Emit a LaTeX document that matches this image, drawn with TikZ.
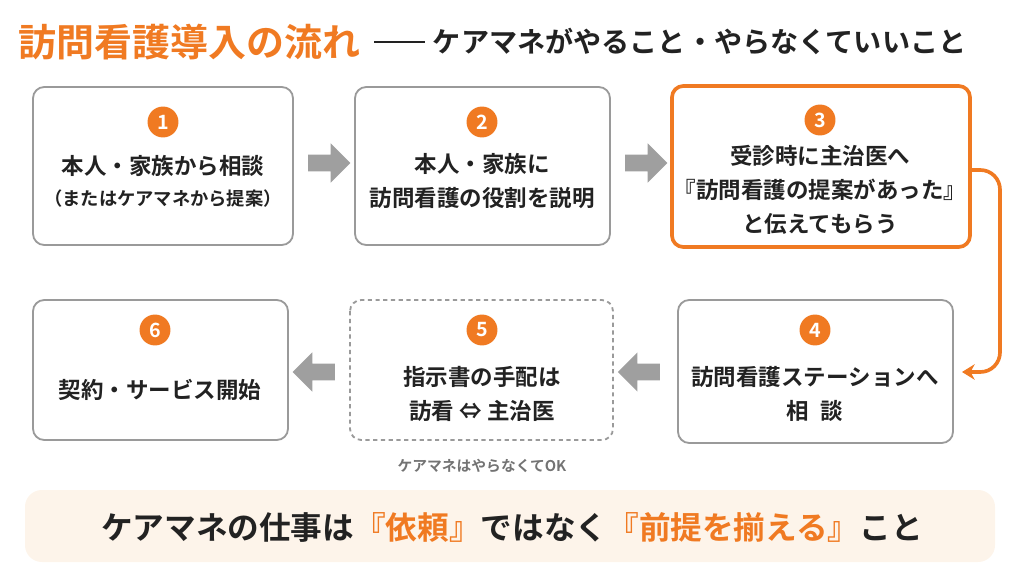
\documentclass[tikz,border=0pt]{standalone}
\usepackage{fontspec}
\setmainfont{Noto Sans CJK JP}[BoldFont={Noto Sans CJK JP Bold}]
\usetikzlibrary{shapes.arrows,arrows.meta}
\definecolor{accent}{HTML}{F07A22}
\definecolor{ink}{HTML}{222222}
\definecolor{frame}{HTML}{9A9A9A}
\definecolor{cream}{HTML}{FDF4EA}
\tikzset{
  stage/.style={draw=frame,line width=1.3pt,rounded corners=8pt,fill=white},
  num/.style={circle,fill=accent,text=white,font=\bfseries\fontsize{14}{14}\selectfont,inner sep=0pt,minimum size=22pt},
  txt/.style={text=ink,font=\bfseries\fontsize{16}{24}\selectfont,align=center},
  flow/.style={single arrow,fill=gray!75,draw=none,minimum height=30pt,minimum width=28pt,single arrow head extend=3pt,inner sep=2pt},
}
\begin{document}
\begin{tikzpicture}[x=0.025cm,y=-0.025cm]
  \useasboundingbox (0,0) rectangle (1024,576);
  % title
  \node[anchor=west,text=accent,font=\bfseries\fontsize{27}{28}\selectfont] (title) at (14,42) {訪問看護導入の流れ};
  \coordinate (dashL) at (374,42);
  \coordinate (dashR) at (425,42);
  \draw[ink,line width=1.5pt] (dashL) -- (dashR);
  \node[anchor=west,text=ink,font=\bfseries\fontsize{20}{20}\selectfont] (sub) at (428,42) {ケアマネがやること・やらなくていいこと};
  % row one
  \draw[stage] (33,87) rectangle (293,245);
  \node[num] (n1) at (163,122) {1};
  \node[txt] (t1) at (163,181) {本人・家族から相談\\[-2pt]{\fontsize{13}{20}\selectfont （またはケアマネから提案）}};
  \node[flow] (a1) at (325,163) {};
  \draw[stage] (355,87) rectangle (610,245);
  \node[num] (n2) at (482,122) {2};
  \node[txt] (t2) at (482,181) {本人・家族に\\訪問看護の役割を説明};
  \node[flow] (a2) at (642,163) {};
  \draw[stage,draw=accent,line width=2.6pt] (672,86) rectangle (970,247);
  \coordinate (b3) at (970,170);
  \node[num] (n3) at (820,120) {3};
  \node[txt] (t3) at (820,190) {受診時に主治医へ\\『訪問看護の提案があった』\\と伝えてもらう};
  % row two
  \draw[stage] (678,300) rectangle (953,443);
  \coordinate (b4) at (962,372);
  \node[num] (n4) at (815,330) {4};
  \node[txt] (t4) at (815,394) {訪問看護ステーションへ\\相\hspace{0.5em}談};
  \draw[accent,line width=2.6pt,rounded corners=14pt,-{Stealth[length=9pt,width=11pt]}] (b3) -- (1000,170) -- (1000,372) -- (b4);
  \node[flow,shape border rotate=180] (a3) at (643,372) {};
  \draw[stage,dashed,dash pattern=on 3pt off 2.5pt] (350,300) rectangle (613,440);
  \node[num] (n5) at (482,330) {5};
  \node[txt] (t5) at (482,394) {指示書の手配は\\訪看 ⇔ 主治医};
  \node[text=gray!90!black,font=\bfseries\fontsize{10.5}{11}\selectfont] (c5) at (482,466) {ケアマネはやらなくてOK};
  \node[flow,shape border rotate=180] (a4) at (318,372) {};
  \draw[stage] (33,300) rectangle (288,440);
  \node[num] (n6) at (155,330) {6};
  \node[txt] (t6) at (160,390) {契約・サービス開始};
  % bottom message
  \fill[cream,rounded corners=12pt] (25,490) rectangle (995,562);
  \node[text=ink,font=\bfseries\fontsize{22.5}{23}\selectfont] (msg) at (512,527)
    {ケアマネの仕事は\textcolor{accent}{『依頼』}ではなく\textcolor{accent}{『前提を揃える』}こと};
\end{tikzpicture}
\end{document}
